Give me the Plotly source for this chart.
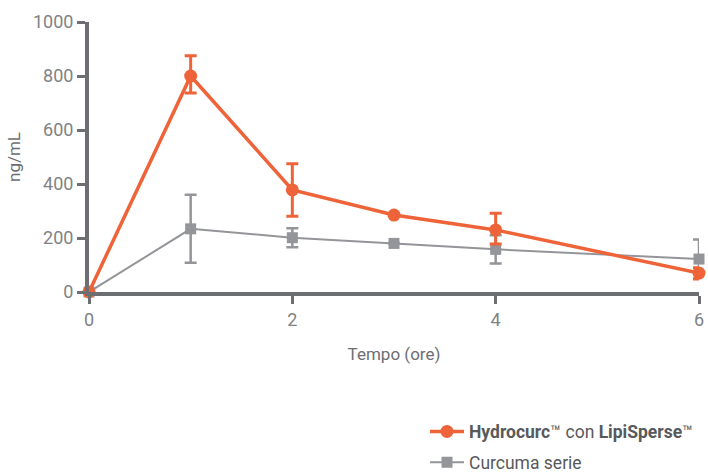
import plotly.graph_objects as go

time_h = [0, 1, 2, 3, 4, 6]
hydro = [0, 800, 378, 285, 230, 70]
hydro_err_plus = [0, 75, 97, 0, 62, 20]
hydro_err_minus = [0, 63, 97, 0, 52, 22]
curc = [0, 234, 201, 180, 158, 122]
curc_err = [0, 126, 35, 0, 52, 72]

orange = "#ee6338"
gray = "#939598"
axis_col = "#6d6e71"
FONT = "Roboto, sans-serif"

fig = go.Figure()
fig.add_trace(go.Scatter(
    x=time_h, y=curc, mode="lines+markers",
    name="Curcuma serie", legendgroup="b", legendrank=2,
    line=dict(color=gray, width=2),
    marker=dict(symbol="square", size=11, color=gray),
    error_y=dict(type="data", array=curc_err, color=gray, thickness=2.5, width=6),
    cliponaxis=False,
))
fig.add_trace(go.Scatter(
    x=time_h, y=hydro, mode="lines+markers",
    name="<b>Hydrocurc</b>™ con <b>LipiSperse</b>™", legendgroup="a", legendrank=1,
    line=dict(color=orange, width=3.5),
    marker=dict(symbol="circle", size=13, color=orange),
    error_y=dict(type="data", array=hydro_err_plus, arrayminus=hydro_err_minus,
                 symmetric=False, color=orange, thickness=3, width=6),
    cliponaxis=False,
))

fig.update_layout(
    width=708, height=473,
    margin=dict(l=89, r=9, t=22, b=181, autoexpand=False),
    paper_bgcolor="white", plot_bgcolor="white",
    font=dict(family=FONT, color="#6d6e71", size=16),
    showlegend=True,
    legend=dict(x=1.0, xanchor="right", y=-0.45, yanchor="top",
                traceorder="grouped", font=dict(size=17.5, color="#58595b"),
                bgcolor="rgba(0,0,0,0)", tracegroupgap=5, itemwidth=34),
    xaxis=dict(range=[0, 6], tickvals=[0, 2, 4, 6], showgrid=False, zeroline=False,
               showline=True, linecolor=axis_col, linewidth=4, automargin=False,
               ticks="outside", ticklen=8, tickwidth=3, tickcolor=axis_col,
               tickfont=dict(size=18, color="#808285"),
               title=dict(text="Tempo (ore)", font=dict(size=17, color="#6d6e71"), standoff=21)),
    yaxis=dict(range=[0, 1000], tickvals=[0, 200, 400, 600, 800, 1000], showgrid=False,
               zeroline=False, showline=True, linecolor=axis_col, linewidth=4, automargin=False,
               ticks="outside", ticklen=8, tickwidth=3, tickcolor=axis_col,
               tickfont=dict(size=18, color="#808285"),
               title=dict(text="ng/mL", font=dict(size=17, color="#6d6e71"), standoff=9)),
)

fig.write_html("out.html", config={"displayModeBar": False},
               post_script="document.body.style.margin='0';")
